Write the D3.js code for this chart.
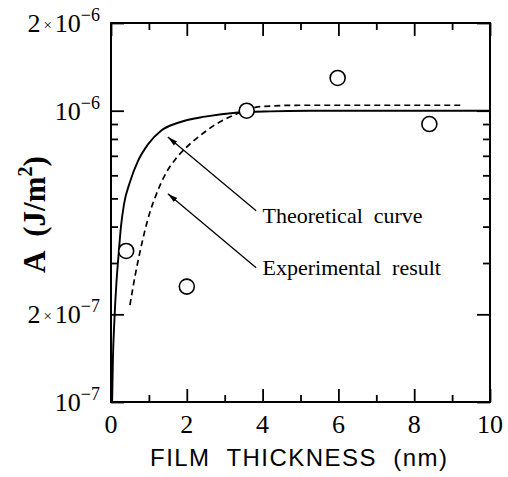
<!DOCTYPE html>
<html>
<head>
<meta charset="utf-8">
<script src="https://cdn.jsdelivr.net/npm/d3@7"></script>
<style>
  body { margin: 0; background: #fff; }
  svg { display: block; }
  .serif { font-family: "Liberation Serif", "Times New Roman", serif; }
  .sans { font-family: "Liberation Sans", Arial, sans-serif; }
</style>
</head>
<body>
<div id="chart"></div>
<script>
// measured points (open circles)
const pointX = [0.40, 2.00, 3.58, 5.98, 8.40];
const pointY = [3.3e-7, 2.49e-7, 1.0e-6, 1.295e-6, 9.0e-7];

// theoretical curve (solid)
const theoryX = [0.03, 0.05, 0.09, 0.14, 0.20, 0.26, 0.34, 0.50, 0.71, 0.98, 1.32, 1.77, 2.48, 3.35, 4.20, 5.26, 7, 10];
const theoryY = [1e-7, 1.39e-7, 1.91e-7, 2.53e-7, 3.20e-7, 3.97e-7, 4.75e-7, 5.69e-7, 6.71e-7, 7.68e-7, 8.54e-7, 9.09e-7, 9.54e-7, 9.86e-7, 9.95e-7, 9.99e-7, 1e-6, 1e-6];

// experimental result (dashed)
const expX = [0.50, 0.63, 0.77, 0.90, 1.03, 1.16, 1.29, 1.47, 1.69, 1.95, 2.35, 2.79, 3.27, 3.59, 3.93, 4.99, 7.10, 9.29];
const expY = [2.15e-7, 2.69e-7, 3.30e-7, 3.90e-7, 4.50e-7, 5.02e-7, 5.53e-7, 6.17e-7, 6.79e-7, 7.40e-7, 8.21e-7, 9.02e-7, 9.69e-7, 1.008e-6, 1.032e-6, 1.044e-6, 1.044e-6, 1.044e-6];

// ticks
const xMajor = [0, 2, 4, 6, 8, 10];
const xMinor = [1, 3, 5, 7, 9];
const yMajor = [1e-7, 2e-7, 1e-6, 2e-6];
const yMinor = [3e-7, 4e-7, 5e-7, 6e-7, 7e-7, 8e-7, 9e-7];
const yMant = ["", "2", "", "2"];
const yExp = ["\u22127", "\u22127", "\u22126", "\u22126"];

// annotations
const annText = ["Theoretical  curve", "Experimental  result"];
const annTailX = [3.83, 3.83], annTailY = [4.53e-7, 2.89e-7];
const annTipX = [1.50, 1.50], annTipY = [8.12e-7, 5.19e-7];
const annTextX = [4.0, 4.0], annTextY = [4.12e-7, 2.73e-7];

const W = 508, H = 477;
const mLeft = 111, mRight = 490, mTop = 23, mBottom = 402;

const svg = d3.select("#chart").append("svg")
    .attr("width", W).attr("height", H);

const x = d3.scaleLinear().domain([0, 10]).range([mLeft, mRight]);
const y = d3.scaleLog().domain([1e-7, 2e-6]).range([mBottom, mTop]);

// clip for curves
svg.append("clipPath").attr("id", "clip")
  .append("rect").attr("x", mLeft).attr("y", mTop)
  .attr("width", mRight - mLeft).attr("height", mBottom - mTop);

// tick marks (inward on all four sides)
function tickAxis(gen, vals, size, transform) {
    const g = svg.append("g").attr("transform", transform)
        .call(gen.tickValues(vals).tickSize(size).tickFormat(""));
    g.select(".domain").remove();
    g.selectAll(".tick line").attr("stroke", "#000").attr("stroke-width", 1.8);
    return g;
}
tickAxis(d3.axisBottom(x), xMajor, -13, `translate(0,${mBottom})`);
tickAxis(d3.axisBottom(x), xMinor, -7, `translate(0,${mBottom})`);
tickAxis(d3.axisTop(x), xMajor, -13, `translate(0,${mTop})`);
tickAxis(d3.axisTop(x), xMinor, -7, `translate(0,${mTop})`);
tickAxis(d3.axisLeft(y), yMajor, -13, `translate(${mLeft},0)`);
tickAxis(d3.axisLeft(y), yMinor, -7, `translate(${mLeft},0)`);
tickAxis(d3.axisRight(y), yMajor, -13, `translate(${mRight},0)`);
tickAxis(d3.axisRight(y), yMinor, -7, `translate(${mRight},0)`);

// frame
svg.append("rect")
    .attr("x", mLeft).attr("y", mTop)
    .attr("width", mRight - mLeft).attr("height", mBottom - mTop)
    .attr("fill", "none").attr("stroke", "#000").attr("stroke-width", 2);

// x tick labels
svg.append("g").selectAll("text").data(xMajor).join("text")
    .attr("class", "serif")
    .attr("x", d => x(d)).attr("y", 433)
    .attr("text-anchor", "middle")
    .attr("font-size", 26)
    .text(d => d);

// y tick labels with superscripts
yMajor.forEach((v, i) => {
    const t = svg.append("text").attr("class", "serif")
        .attr("x", 100).attr("y", y(v) + 9)
        .attr("text-anchor", "end")
        .attr("font-size", 26);
    if (yMant[i]) {
        t.append("tspan").text(yMant[i]);
        t.append("tspan").attr("font-size", 15).attr("dx", 3).attr("dy", -2).text("\u00d7");
        t.append("tspan").attr("dx", 3).attr("dy", 2).text("10");
    } else {
        t.append("tspan").text("10");
    }
    t.append("tspan").attr("font-size", 18).attr("dy", -11).text(yExp[i]);
});

// axis titles
svg.append("text").attr("class", "sans")
    .attr("x", (mLeft + mRight) / 2 - 2).attr("y", 466)
    .attr("text-anchor", "middle")
    .attr("font-size", 24)
    .attr("textLength", 297).attr("lengthAdjust", "spacing")
    .style("white-space", "pre")
    .text("FILM  THICKNESS  (nm)");

const yl = svg.append("text").attr("class", "serif")
    .attr("transform", `translate(45,${(mTop + mBottom) / 2 + 2}) rotate(-90)`)
    .attr("text-anchor", "middle")
    .attr("font-size", 31).attr("font-weight", "bold")
    .style("white-space", "pre");
yl.append("tspan").text("A  (J/m");
yl.append("tspan").attr("font-size", 20).attr("dy", -13).text("2");
yl.append("tspan").attr("dy", 13).text(")");

// curves
const line = d3.line().x(d => x(d[0])).y(d => y(d[1])).curve(d3.curveMonotoneX);
const curves = svg.append("g").attr("clip-path", "url(#clip)");
curves.append("path")
    .datum(theoryX.map((v, i) => [v, theoryY[i]]))
    .attr("d", line).attr("fill", "none")
    .attr("stroke", "#000").attr("stroke-width", 1.9);
curves.append("path")
    .datum(expX.map((v, i) => [v, expY[i]]))
    .attr("d", line).attr("fill", "none")
    .attr("stroke", "#000").attr("stroke-width", 1.7)
    .attr("stroke-dasharray", "6,4");

// arrows
svg.append("defs").append("marker")
    .attr("id", "arrow").attr("markerUnits", "userSpaceOnUse")
    .attr("viewBox", "0 -4 10 8").attr("refX", 10).attr("refY", 0)
    .attr("markerWidth", 10).attr("markerHeight", 8).attr("orient", "auto")
  .append("path").attr("d", "M0,-2.6L10,0L0,2.6Z").attr("fill", "#000");

svg.append("g").selectAll("line").data(annText).join("line")
    .attr("x1", (d, i) => x(annTailX[i])).attr("y1", (d, i) => y(annTailY[i]))
    .attr("x2", (d, i) => x(annTipX[i])).attr("y2", (d, i) => y(annTipY[i]))
    .attr("stroke", "#000").attr("stroke-width", 1.3)
    .attr("marker-end", "url(#arrow)");

svg.append("g").selectAll("text").data(annText).join("text")
    .attr("class", "serif")
    .attr("x", (d, i) => x(annTextX[i])).attr("y", (d, i) => y(annTextY[i]))
    .attr("font-size", 22)
    .style("white-space", "pre")
    .text(d => d);

// measured points
svg.append("g").selectAll("circle").data(pointX).join("circle")
    .attr("cx", d => x(d)).attr("cy", (d, i) => y(pointY[i]))
    .attr("r", 7.5)
    .attr("fill", "#fff").attr("stroke", "#000").attr("stroke-width", 1.6);
</script>
</body>
</html>
